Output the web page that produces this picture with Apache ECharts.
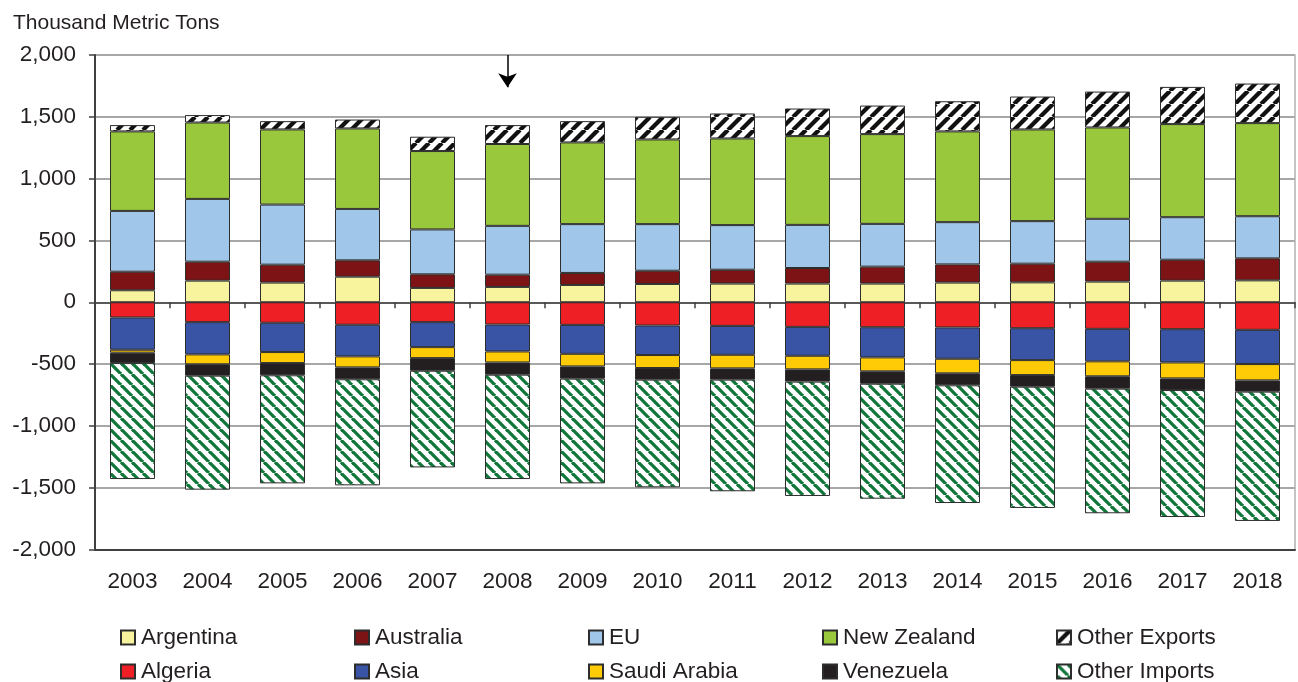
<!DOCTYPE html>
<html>
<head>
<meta charset="utf-8">
<script src="https://cdn.jsdelivr.net/npm/echarts@6/dist/echarts.min.js"></script>
<style>
html,body{margin:0;padding:0;background:#fff;}
#chart{width:1298px;height:682px;}
</style>
</head>
<body>
<div id="chart"></div>
<script>
// ---- Data (Thousand Metric Tons) ----
const years = ['2003','2004','2005','2006','2007','2008','2009','2010','2011','2012','2013','2014','2015','2016','2017','2018'];
const yTicks = { min: -2000, max: 2000, step: 500 };

// Exports (positive)
const argentina    = [97, 175, 159, 207, 116, 124, 140, 148, 151, 151, 151, 159, 161, 167, 175, 177];
const australia    = [150, 153, 145, 132, 110, 99, 97, 107, 112, 126, 137, 147, 151, 161, 169, 178];
const eu           = [492, 508, 486, 416, 363, 395, 395, 377, 361, 349, 346, 342, 344, 347, 344, 341];
const newZealand   = [643, 618, 608, 651, 634, 662, 661, 685, 701, 718, 726, 734, 742, 739, 753, 753];
const otherExports = [51, 60, 67, 72, 116, 153, 172, 183, 202, 223, 231, 244, 266, 290, 301, 320];

// Imports (negative)
const algeria      = [-123, -161, -166, -182, -161, -180, -183, -188, -191, -199, -202, -204, -210, -215, -218, -223];
const asia         = [-261, -261, -237, -256, -202, -218, -234, -239, -234, -234, -244, -253, -258, -263, -269, -277];
const saudiArabia  = [-24, -80, -89, -89, -89, -89, -102, -105, -110, -110, -113, -118, -121, -121, -129, -132];
const venezuela    = [-84, -92, -99, -96, -102, -99, -99, -94, -91, -99, -100, -97, -94, -100, -94, -91];
const otherImports = [-938, -922, -874, -858, -782, -844, -847, -871, -903, -925, -930, -952, -981, -1008, -1027, -1046];

// Annotation arrow (category, from value, to value)
const arrowYear = '2008';
const arrowFrom = 2000;
const arrowTo = 1740;

// ---- Patterns ----
function stripes(color, period, width, dir) {
  const c = document.createElement('canvas');
  c.width = period; c.height = period;
  const ctx = c.getContext('2d');
  ctx.fillStyle = '#ffffff';
  ctx.fillRect(0, 0, period, period);
  ctx.strokeStyle = color;
  ctx.lineWidth = width;
  [-period, 0, period].forEach(k => {
    ctx.beginPath();
    if (dir === '/') { ctx.moveTo(k, period); ctx.lineTo(k + period, 0); }
    else { ctx.moveTo(k, 0); ctx.lineTo(k + period, period); }
    ctx.stroke();
  });
  return { image: c, repeat: 'repeat' };
}
const blackStripes = stripes('#111111', 13, 4.3, '/');
const greenStripes = stripes('#11763a', 11, 3.3, '\\');

const FONT = '"Liberation Sans", Arial, sans-serif';
const TXT = '#231f20';

const seriesDefs = [
  { name: 'Argentina',     data: argentina,    color: '#f8f49e' },
  { name: 'Australia',     data: australia,    color: '#7d1315' },
  { name: 'EU',            data: eu,           color: '#a0c6e9' },
  { name: 'New Zealand',   data: newZealand,   color: '#9ac83c' },
  { name: 'Other Exports', data: otherExports, color: blackStripes },
  { name: 'Algeria',       data: algeria,      color: '#ee1f25' },
  { name: 'Asia',          data: asia,         color: '#3953a5' },
  { name: 'Saudi Arabia',  data: saudiArabia,  color: '#fecb06' },
  { name: 'Venezuela',     data: venezuela,    color: '#231f20' },
  { name: 'Other Imports', data: otherImports, color: greenStripes }
];

const series = seriesDefs.map(d => ({
  name: d.name,
  type: 'bar',
  stack: 'total',
  barWidth: '60%',
  data: d.data,
  itemStyle: { color: d.color, borderColor: '#2d2d2d', borderWidth: 1 },
  emphasis: { disabled: true },
  animation: false
}));

series[4].markLine = {
  silent: true,
  symbol: ['none', 'arrow'],
  symbolSize: [14, 14],
  label: { show: false },
  lineStyle: { color: '#000', width: 1.5, type: 'solid' },
  itemStyle: { color: '#000' },
  data: [[{ coord: [arrowYear, arrowFrom] }, { coord: [arrowYear, arrowTo] }]],
  animation: false
};

// Legend: 2 rows x 5 columns
const legendCols = [120, 354, 588, 822, 1056];
const legendRows = [626, 660];
const legends = seriesDefs.map((d, i) => ({
  data: [d.name],
  left: legendCols[i % 5],
  top: legendRows[Math.floor(i / 5)],
  padding: 0,
  itemWidth: 14,
  itemHeight: 14,
  selectedMode: false,
  icon: 'rect',
  textStyle: { fontFamily: FONT, fontSize: 22.5, color: TXT, padding: [0, 0, 0, 1] }
}));

const chart = echarts.init(document.getElementById('chart'), null, { renderer: 'canvas' });
chart.setOption({
  animation: false,
  backgroundColor: '#ffffff',
  title: {
    text: 'Thousand Metric Tons',
    left: 8, top: 8,
    textStyle: { fontFamily: FONT, fontSize: 21, fontWeight: 'normal', color: TXT }
  },
  legend: legends,
  grid: { left: 95, right: 3, top: 55, bottom: 132.5, containLabel: false },
  xAxis: [
    {
      type: 'category',
      data: years,
      position: 'bottom',
      axisLine: { onZero: false, lineStyle: { color: '#404040', width: 2 } },
      axisTick: { show: false },
      axisLabel: { fontFamily: FONT, fontSize: 22.5, color: TXT, margin: 21 }
    },
    {
      type: 'category',
      data: years,
      position: 'bottom',
      axisLine: { onZero: true, lineStyle: { color: '#404040', width: 1.5 } },
      axisTick: { show: true, length: 6, lineStyle: { color: '#404040', width: 1.5 } },
      axisLabel: { show: false }
    }
  ],
  yAxis: [
    {
      type: 'value',
      min: yTicks.min, max: yTicks.max, interval: yTicks.step,
      axisLine: { show: true, lineStyle: { color: '#404040', width: 2 } },
      axisTick: { show: true, length: 6, lineStyle: { color: '#404040', width: 1.5 } },
      axisLabel: {
        fontFamily: FONT, fontSize: 22.5, color: TXT, margin: 19,
        formatter: v => v.toLocaleString('en-US')
      },
      splitLine: { lineStyle: { color: '#a7a7a7', width: 2 } }
    },
    {
      type: 'value',
      position: 'right',
      min: yTicks.min, max: yTicks.max, interval: yTicks.step,
      axisLine: { show: true, lineStyle: { color: '#b0b0b0', width: 1.5 } },
      axisTick: { show: false },
      axisLabel: { show: false },
      splitLine: { show: false }
    }
  ],
  series: series
});
</script>
</body>
</html>
